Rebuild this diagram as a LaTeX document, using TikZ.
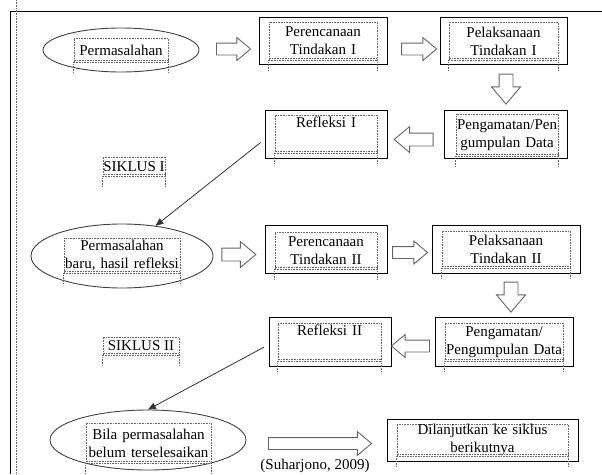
\documentclass[tikz,border=0pt]{standalone}
\usepackage{fontspec}
\setmainfont{Liberation Serif}
\usetikzlibrary{arrows,shapes.geometric,shapes.arrows}
\tikzset{
	box/.style={draw, line width=0.95pt, inner sep=0pt},
	oval/.style={ellipse, draw=black!75, line width=0.9pt, inner sep=0pt},
	frm/.style={draw=black!60, dash pattern=on 0.7pt off 0.9pt, line width=0.6pt},
	txt/.style={frm, inner sep=0pt, align=center, text width=#1},
	barrow/.style n args={3}{single arrow, draw=black!60, line width=0.9pt, inner xsep=0pt, inner ysep=#3,
			minimum height=#1, minimum width=#2, single arrow head extend=#2/2-#3, single arrow tip angle=80},
	link/.style={->, draw=black!80, line width=0.8pt, shorten <=5pt}
}

\begin{document}
\begin{tikzpicture}[x=1pt, y=-1pt, >=triangle 45, font=\fontsize{15pt}{18pt}\selectfont]
	\useasboundingbox (0,0) rectangle (602,474);
	
	% Page border
	\draw[line width=1pt] (10,474) -- (10,11) -- (602,11);
	\draw[frm] (16,0) -- (16,474);
	
	% Siklus I
	\node[oval, minimum width=156pt, minimum height=44pt] (masalah1) at (121,50) {};
	\node[txt=94pt, minimum height=24pt] (masalah1txt) at (121,50) {Permasalahan};
	\node[box, minimum width=128pt, minimum height=47pt] (renc1) at (323,40.5) {};
	\node[txt=108pt, minimum height=38pt] (renc1txt) at (323,41) {Perencanaan\\Tindakan I};
	\node[box, minimum width=127pt, minimum height=47pt] (laks1) at (503.5,40.5) {};
	\node[txt=109pt, minimum height=38pt] (laks1txt) at (503.5,41) {Pelaksanaan\\Tindakan I};
	\node[box, minimum width=123pt, minimum height=48pt] (amat1) at (505.5,134) {};
	\node[txt=102pt, minimum height=42pt] (amat1txt) at (507,135) {Pengamatan/Pen\\gumpulan Data};
	\node[box, minimum width=122pt, minimum height=48pt] (refl1) at (326,134) {};
	\node[txt=102pt, minimum height=38pt] (refl1txt) at (326,134) {Refleksi I\\ \strut};
	\node[frm, inner sep=0pt, minimum width=62pt, minimum height=19pt] (siklus1) at (134,166.5) {SIKLUS I};
	
	% Siklus II
	\node[oval, minimum width=182pt, minimum height=64pt] (masalah2) at (122,256) {};
	\node[txt=116pt, minimum height=35pt] (masalah2txt) at (122,255.5) {Permasalahan\\baru, hasil refleksi};
	\node[box, minimum width=122pt, minimum height=48pt] (renc2) at (326,249) {};
	\node[txt=102pt, minimum height=37pt] (renc2txt) at (326,250.5) {Perencanaan\\Tindakan II};
	\node[box, minimum width=148pt, minimum height=48pt] (laks2) at (506,249) {};
	\node[txt=128pt, minimum height=37pt] (laks2txt) at (506,249.5) {Pelaksanaan\\Tindakan II};
	\node[box, minimum width=138pt, minimum height=49pt] (amat2) at (504,341.5) {};
	\node[txt=118pt, minimum height=38pt] (amat2txt) at (504,342) {Pengamatan/\\Pengumpulan Data};
	\node[box, minimum width=122pt, minimum height=49pt] (refl2) at (330,341.5) {};
	\node[txt=103pt, minimum height=38pt] (refl2txt) at (329.5,342) {Refleksi II\\ \strut};
	\node[frm, inner sep=0pt, minimum width=76pt, minimum height=18pt] (siklus2) at (141,346) {SIKLUS II};
	
	% Akhir
	\node[oval, minimum width=196pt, minimum height=60pt] (masalah3) at (148,440) {};
	\node[txt=125pt, minimum height=40pt] (masalah3txt) at (148.5,443) {Bila permasalahan\\belum terselesaikan};
	\node[box, minimum width=191pt, minimum height=42pt] (lanjut) at (482.5,440) {};
	\node[txt=171pt, minimum height=30pt] (lanjuttxt) at (482.5,440) {Dilanjutkan ke siklus\\berikutnya};
	\node (sumber) at (315,466) {(Suharjono, 2009)};
	
	% Frame legs
	\foreach \n in {masalah1txt,renc1txt,laks1txt,amat1txt,refl1txt,siklus1,masalah2txt,renc2txt,laks2txt,amat2txt,refl2txt,siklus2,masalah3txt,lanjuttxt}
		\draw[frm] (\n.south west) -- ++(0,10) (\n.south east) -- ++(0,10)
			([yshift=2pt]\n.south west) -- ([yshift=2pt]\n.south east);
	
	% Block arrows
	\node[barrow={34pt}{22pt}{5.5pt}] (a1) at (230,49) {};
	\node[barrow={35pt}{22pt}{5.5pt}] (a2) at (415.5,49) {};
	\node[barrow={30pt}{28pt}{6.5pt}, rotate=-90] (a3) at (506,85) {};
	\node[barrow={39pt}{25pt}{6pt}, rotate=180] (a4) at (417.5,139.5) {};
	\node[barrow={34pt}{25pt}{6pt}] (a5) at (235,254.5) {};
	\node[barrow={35pt}{22pt}{5.5pt}] (a6) at (406.5,252.5) {};
	\node[barrow={30pt}{28pt}{6.5pt}, rotate=-90] (a7) at (511,293) {};
	\node[barrow={38pt}{22pt}{5.5pt}, rotate=180] (a8) at (414,346) {};
	\node[barrow={103pt}{23pt}{5.5pt}] (a9) at (316.5,443.5) {};
	
	% Links
	\draw[link] (refl1.185) -- (masalah2.42);
	\draw[link] (refl2.183) -- (masalah3.north);
\end{tikzpicture}
\end{document}
